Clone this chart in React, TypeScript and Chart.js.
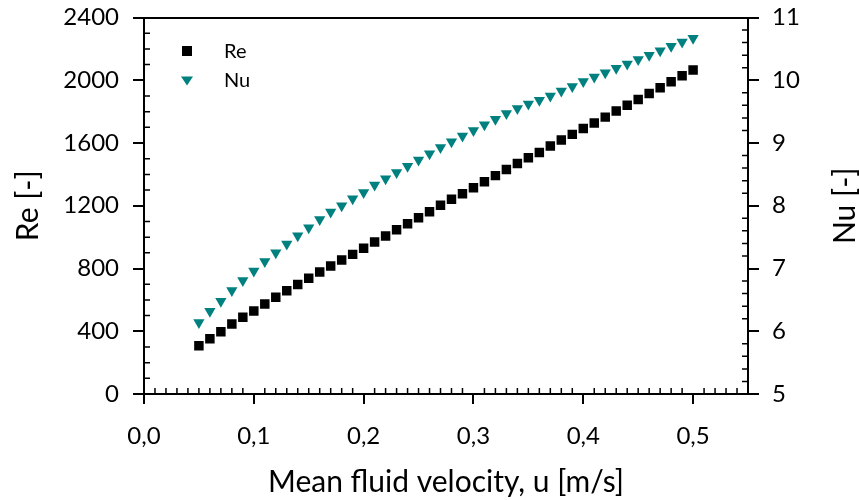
import React, { useEffect, useRef } from "react";
import { Chart, registerables } from "chart.js";

Chart.register(...registerables);

const velocity = [
  0.05, 0.06, 0.07, 0.08, 0.09, 0.10, 0.11, 0.12, 0.13, 0.14,
  0.15, 0.16, 0.17, 0.18, 0.19, 0.20, 0.21, 0.22, 0.23, 0.24,
  0.25, 0.26, 0.27, 0.28, 0.29, 0.30, 0.31, 0.32, 0.33, 0.34,
  0.35, 0.36, 0.37, 0.38, 0.39, 0.40, 0.41, 0.42, 0.43, 0.44,
  0.45, 0.46, 0.47, 0.48, 0.49, 0.50,
];

const reValues = [
  308, 352, 397, 446, 489, 529, 574, 617, 658, 698,
  738, 777, 816, 854, 890, 929, 969, 1007, 1047, 1085,
  1124, 1162, 1203, 1241, 1277, 1315, 1353, 1392, 1431, 1470,
  1506, 1540, 1581, 1619, 1655, 1693, 1727, 1765, 1804, 1840,
  1878, 1916, 1952, 1990, 2029, 2065,
];

const nuValues = [
  6.14, 6.32, 6.48, 6.65, 6.81, 6.96, 7.11, 7.25, 7.39, 7.52,
  7.65, 7.78, 7.90, 8.00, 8.11, 8.21, 8.33, 8.43, 8.53, 8.63,
  8.73, 8.83, 8.93, 9.02, 9.11, 9.20, 9.29, 9.38, 9.47, 9.55,
  9.62, 9.68, 9.75, 9.83, 9.90, 9.98, 10.05, 10.12, 10.19, 10.26,
  10.33, 10.40, 10.47, 10.54, 10.61, 10.67,
];

const xTicks = [0, 0.1, 0.2, 0.3, 0.4, 0.5];
const reTicks = [0, 400, 800, 1200, 1600, 2000, 2400];
const nuTicks = [5, 6, 7, 8, 9, 10, 11];

const FONT = "Lato, 'Open Sans', sans-serif";
const TEAL = "#00807f";

const decorPlugin = {
  id: "decor",
  afterDraw(chart: any) {
    const { ctx, chartArea } = chart;
    const { left, right, top, bottom } = chartArea;
    const xs = chart.scales.x;
    const ys = chart.scales.y;
    const y1 = chart.scales.y1;
    ctx.save();
    ctx.strokeStyle = "#000";
    ctx.lineWidth = 2;
    ctx.beginPath();
    ctx.moveTo(left, Math.round(top));
    ctx.lineTo(right, Math.round(top));
    ctx.stroke();
    ctx.lineWidth = 1.5;
    ctx.beginPath();
    for (let i = 1; i < 55; i++) {
      if (i % 10 === 0) continue;
      const px = xs.getPixelForValue(i / 100);
      ctx.moveTo(px, bottom);
      ctx.lineTo(px, bottom - 6);
    }
    for (let v = 100; v < 2400; v += 100) {
      if (v % 400 === 0) continue;
      const py = ys.getPixelForValue(v);
      ctx.moveTo(left, py);
      ctx.lineTo(left + 6, py);
    }
    for (let k = 1; k < 30; k++) {
      if (k % 5 === 0) continue;
      const py = y1.getPixelForValue(5 + k * 0.2);
      ctx.moveTo(right, py);
      ctx.lineTo(right - 6, py);
    }
    ctx.stroke();

    ctx.fillStyle = "#000";
    ctx.textAlign = "center";
    ctx.textBaseline = "middle";
    ctx.font = `30px ${FONT}`;
    ctx.fillText("Mean fluid velocity, u [m/s]", (left + right) / 2, 482);
    const midY = (top + bottom) / 2;
    ctx.save();
    ctx.translate(28, midY);
    ctx.rotate(-Math.PI / 2);
    ctx.fillText("Re [-]", 0, 0);
    ctx.restore();
    ctx.save();
    ctx.translate(845, midY);
    ctx.rotate(-Math.PI / 2);
    ctx.fillText("Nu [-]", 0, 0);
    ctx.restore();

    const lx = left + 43;
    const ly1 = top + 33.5;
    const ly2 = top + 63;
    ctx.fillStyle = "#000";
    ctx.fillRect(lx - 5, ly1 - 5, 10, 10);
    ctx.fillStyle = TEAL;
    ctx.beginPath();
    ctx.moveTo(lx - 6, ly2 - 4);
    ctx.lineTo(lx + 6, ly2 - 4);
    ctx.lineTo(lx, ly2 + 5);
    ctx.closePath();
    ctx.fill();
    ctx.fillStyle = "#000";
    ctx.textAlign = "left";
    ctx.font = `20px ${FONT}`;
    ctx.fillText("Re", lx + 37, ly1 + 0.5);
    ctx.fillText("Nu", lx + 37, ly2 + 0.5);
    ctx.restore();
  },
};

export default function App() {
  const canvasRef = useRef<HTMLCanvasElement | null>(null);

  useEffect(() => {
    const canvas = canvasRef.current;
    if (!canvas) return;
    const tickFont = { family: FONT, size: 24 };
    const zeroPad = (s: any) => {
      s.paddingTop = 0;
      s.paddingBottom = 0;
      s.paddingLeft = 0;
      s.paddingRight = 0;
    };
    const chart = new Chart(canvas, {
      type: "scatter",
      data: {
        datasets: [
          {
            label: "Re",
            data: velocity.map((u, i) => ({ x: u, y: reValues[i] })),
            yAxisID: "y",
            pointStyle: "rect",
            pointRadius: 6.7,
            pointHoverRadius: 6.7,
            backgroundColor: "#000",
            borderColor: "#000",
            borderWidth: 0,
          },
          {
            label: "Nu",
            data: velocity.map((u, i) => ({ x: u, y: nuValues[i] })),
            yAxisID: "y1",
            pointStyle: "triangle",
            rotation: 180,
            pointRadius: 6.5,
            pointHoverRadius: 6.5,
            backgroundColor: TEAL,
            borderColor: TEAL,
            borderWidth: 0,
          },
        ],
      },
      options: {
        responsive: false,
        animation: false,
        layout: { padding: { top: 17.5, left: 0, right: 0, bottom: 0 } },
        plugins: {
          legend: { display: false },
          tooltip: { enabled: false },
        },
        scales: {
          x: {
            type: "linear",
            min: 0,
            max: 0.55,
            afterBuildTicks: (s: any) => {
              s.ticks = xTicks.map((v) => ({ value: v }));
            },
            afterFit: (s: any) => {
              s.height = 106;
              zeroPad(s);
            },
            ticks: {
              font: tickFont,
              color: "#000",
              padding: 18,
              maxRotation: 0,
              callback: (v: any) => Number(v).toFixed(1).replace(".", ","),
            },
            grid: {
              drawOnChartArea: false,
              color: "#000",
              lineWidth: 2,
              tickLength: 10,
            },
            border: { display: true, color: "#000", width: 2 },
          },
          y: {
            type: "linear",
            position: "left",
            min: 0,
            max: 2400,
            afterBuildTicks: (s: any) => {
              s.ticks = reTicks.map((v) => ({ value: v }));
            },
            afterFit: (s: any) => {
              s.width = 144;
              zeroPad(s);
            },
            ticks: {
              font: tickFont,
              color: "#000",
              padding: 14,
              callback: (v: any) => String(v),
            },
            grid: {
              drawOnChartArea: false,
              color: "#000",
              lineWidth: 2,
              tickLength: 11,
            },
            border: { display: true, color: "#000", width: 2 },
          },
          y1: {
            type: "linear",
            position: "right",
            min: 5,
            max: 11,
            afterBuildTicks: (s: any) => {
              s.ticks = nuTicks.map((v) => ({ value: v }));
            },
            afterFit: (s: any) => {
              s.width = 111;
              zeroPad(s);
            },
            ticks: {
              font: tickFont,
              color: "#000",
              padding: 13,
              callback: (v: any) => String(v),
            },
            grid: {
              drawOnChartArea: false,
              color: "#000",
              lineWidth: 2,
              tickLength: 11,
            },
            border: { display: true, color: "#000", width: 2 },
          },
        },
      },
      plugins: [decorPlugin],
    });
    return () => chart.destroy();
  }, []);

  return (
    <div style={{ position: "fixed", left: 0, top: 0, width: 859, height: 500, background: "#fff" }}>
      <canvas ref={canvasRef} width={859} height={500} style={{ display: "block" }} />
    </div>
  );
}
